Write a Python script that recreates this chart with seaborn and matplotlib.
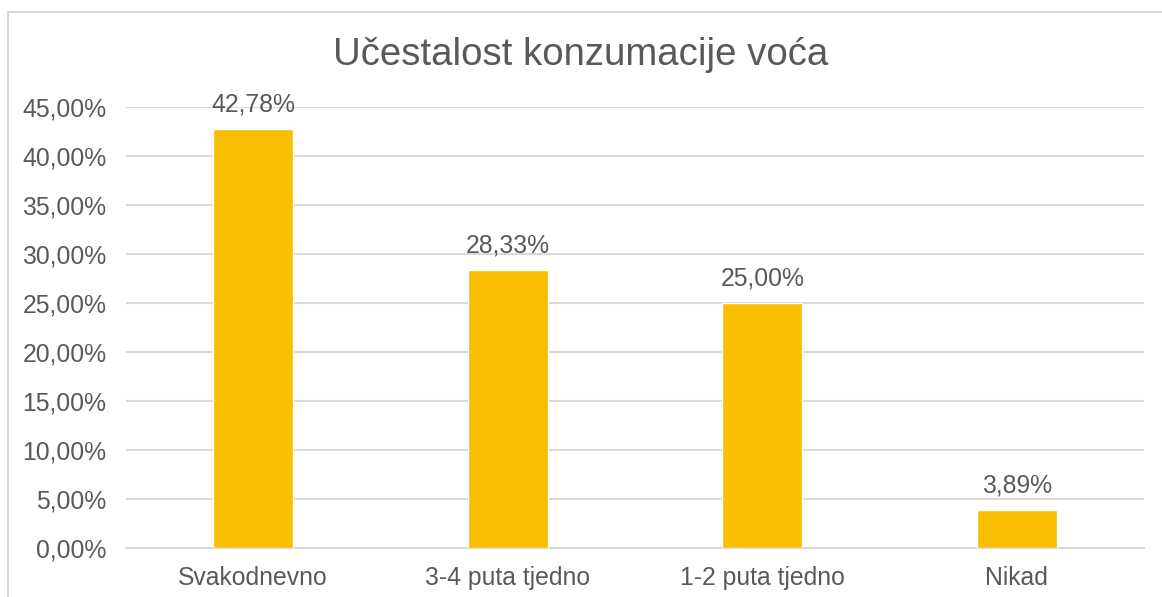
import matplotlib
matplotlib.use("Agg")
import matplotlib.pyplot as plt
import seaborn as sns
import pandas as pd
from matplotlib.patches import Rectangle
from matplotlib.ticker import MultipleLocator, FuncFormatter

categories = ["Svakodnevno", "3-4 puta tjedno", "1-2 puta tjedno", "Nikad"]
values = [42.78, 28.33, 25.00, 3.89]
title = "Učestalost konzumacije voća"

sns.set_theme(style="white")
plt.rcParams['font.family'] = ['Liberation Sans', 'DejaVu Sans']

df = pd.DataFrame({"cat": categories, "val": values})

fig = plt.figure(figsize=(11.62, 5.97), dpi=100)
ax = fig.add_axes([126/1162, 1-548/597, (1144-126)/1162, (548-107)/597])

text_color = "#595959"
grid_color = "#D9D9D9"
bar_color = "#F9BE00"

sns.barplot(data=df, x="cat", y="val", color=bar_color, width=0.314,
            saturation=1, ax=ax, zorder=3)

ax.set_ylim(0, 45)
ax.set_xlim(-0.5, 3.5)
ax.yaxis.set_major_locator(MultipleLocator(5))
ax.yaxis.set_major_formatter(FuncFormatter(lambda v, p: f"{v:.2f}".replace(".", ",") + "%"))
ax.grid(axis="y", color=grid_color, linewidth=1.5, zorder=0)
ax.set_axisbelow(True)
for s in ["top", "right", "left"]:
    ax.spines[s].set_visible(False)
ax.spines["bottom"].set_color(grid_color)
ax.spines["bottom"].set_linewidth(1.5)
ax.set_xlabel("")
ax.set_ylabel("")
ax.tick_params(axis="y", length=0, pad=14, labelsize=17.8, labelcolor=text_color)
ax.tick_params(axis="x", length=0, pad=13, labelsize=17.8, labelcolor=text_color)

for container in ax.containers:
    ax.bar_label(container, labels=[f"{v:.2f}".replace(".", ",") + "%" for v in values],
                 padding=9, fontsize=17.8, color=text_color)

fig.text(0.5, 1-55/597, title, ha="center", va="center", fontsize=27.6, color=text_color)

fig.patches.append(Rectangle((8/1162, -0.1), 1.2, 1.1 - 12/597, transform=fig.transFigure,
                             fill=False, edgecolor=grid_color, linewidth=1.5))

fig.savefig("out.png", dpi=100, facecolor="white")
